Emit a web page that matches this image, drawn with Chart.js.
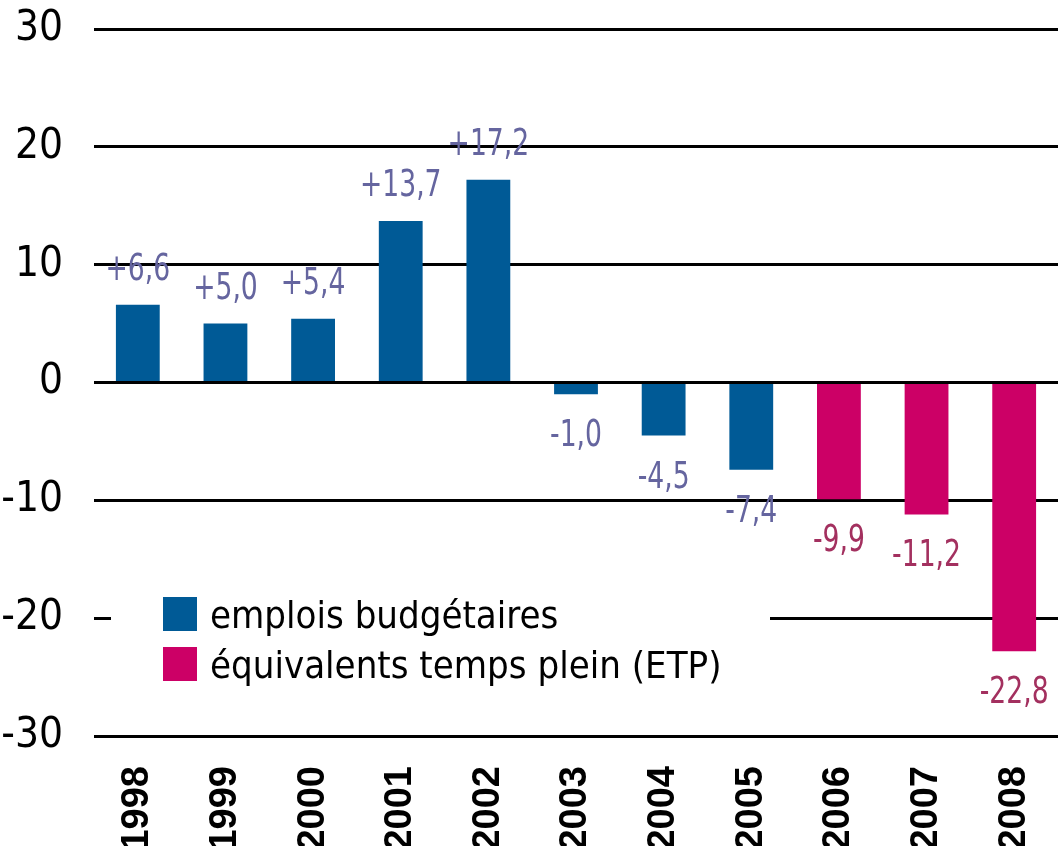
<!DOCTYPE html>
<html lang="fr">
<head>
<meta charset="utf-8">
<title>Emplois budgétaires / ETP</title>
<script src="https://cdn.jsdelivr.net/npm/chart.js@4.4.1/dist/chart.umd.min.js"></script>
<style>
    html, body { margin: 0; padding: 0; background: #fff; }
    #wrap { position: relative; width: 1058px; height: 846px; }
</style>
</head>
<body>
<div id="wrap"><canvas id="chart-emplois"></canvas></div>
<script>
// data
const years = ["1998", "1999", "2000", "2001", "2002", "2003", "2004", "2005", "2006", "2007", "2008"];
const emploisBudgetaires = [6.6, 5.0, 5.4, 13.7, 17.2, -1.0, -4.5, -7.4, null, null, null];
const equivalentsTempsPlein = [null, null, null, null, null, null, null, null, -9.9, -11.2, -22.8];
const yTicks = [30, 20, 10, 0, -10, -20, -30];

const NARROW = "'Liberation Sans Narrow', 'DejaVu Sans Condensed', 'Liberation Sans', sans-serif";
const BLUE = '#005a96';
const MAGENTA = '#cc0066';

function formatValue(v) {
    const s = Math.abs(v).toFixed(1).replace('.', ',');
    return (v > 0 ? '+' : '-') + s;
}

// value labels above / below each bar (squeezed a bit to look condensed)
const valueLabels = {
    id: 'valueLabels',
    afterDatasetsDraw(chart) {
        const ctx = chart.ctx;
        const sx = 0.8;
        ctx.save();
        ctx.font = '37px ' + NARROW;
        ctx.textAlign = 'center';
        ctx.textBaseline = 'alphabetic';
        chart.data.datasets.forEach((ds, i) => {
            const meta = chart.getDatasetMeta(i);
            ctx.fillStyle = ds.labelColor;
            meta.data.forEach((bar, j) => {
                const v = ds.data[j];
                if (v === null || v === undefined) return;
                const y = v >= 0 ? bar.y - 25 : bar.y + 52;
                ctx.save();
                ctx.translate(bar.x, y);
                ctx.scale(sx, 1);
                ctx.fillText(formatValue(v), 0, 0);
                ctx.restore();
            });
        });
        ctx.restore();
    }
};

// legend box sitting inside the plot, over the -20 line
const insideLegend = {
    id: 'insideLegend',
    afterDatasetsDraw(chart) {
        const ctx = chart.ctx;
        ctx.save();
        ctx.fillStyle = '#fff';
        ctx.fillRect(111, 585, 659, 110);
        ctx.font = '38px ' + NARROW;
        ctx.textAlign = 'left';
        ctx.textBaseline = 'alphabetic';
        chart.data.datasets.forEach((ds, i) => {
            const top = 597 + i * 50;
            ctx.fillStyle = ds.backgroundColor;
            ctx.fillRect(163, top, 34, 34);
            ctx.fillStyle = '#000';
            ctx.fillText(ds.label, 210, top + 31);
        });
        ctx.restore();
    }
};

function drawChart() {
    const ctx = document.getElementById('chart-emplois');
    new Chart(ctx, {
        type: 'bar',
        data: {
            labels: years,
            datasets: [
                {
                    label: 'emplois budgétaires',
                    data: emploisBudgetaires,
                    backgroundColor: BLUE,
                    labelColor: '#65659f',
                    barPercentage: 0.5,
                    categoryPercentage: 1.0,
                },
                {
                    label: 'équivalents temps plein (ETP)',
                    data: equivalentsTempsPlein,
                    backgroundColor: MAGENTA,
                    labelColor: '#a3305f',
                    barPercentage: 0.5,
                    categoryPercentage: 1.0,
                },
            ],
        },
        options: {
            responsive: true,
            maintainAspectRatio: false,
            animation: false,
            layout: { padding: { top: 29, right: 0, left: 0, bottom: 0 } },
            scales: {
                x: {
                    stacked: true,
                    grid: { display: false, drawTicks: false },
                    border: { display: false },
                    ticks: {
                        color: '#000',
                        font: { family: "'Liberation Sans', Arial, sans-serif", size: 38, weight: 'bold' },
                        minRotation: 90,
                        maxRotation: 90,
                        padding: 30,
                        autoSkip: false,
                    },
                    afterFit: (axis) => {
                        axis.height = 110;
                        axis.paddingLeft = 0;
                        axis.paddingRight = 0;
                    },
                },
                y: {
                    stacked: true,
                    min: -30,
                    max: 30,
                    afterBuildTicks: (axis) => { axis.ticks = yTicks.map((v) => ({ value: v })); },
                    grid: { color: '#000', lineWidth: 3, drawTicks: false },
                    border: { display: false },
                    ticks: {
                        color: '#000',
                        font: { family: NARROW, size: 42 },
                        padding: 31,
                    },
                    afterFit: (axis) => {
                        axis.width = 94;
                        axis.paddingTop = 0;
                        axis.paddingBottom = 0;
                    },
                },
            },
            plugins: {
                legend: { display: false },
                tooltip: { enabled: false },
            },
        },
        plugins: [valueLabels, insideLegend],
    });
}

document.addEventListener('DOMContentLoaded', drawChart);
</script>
</body>
</html>
